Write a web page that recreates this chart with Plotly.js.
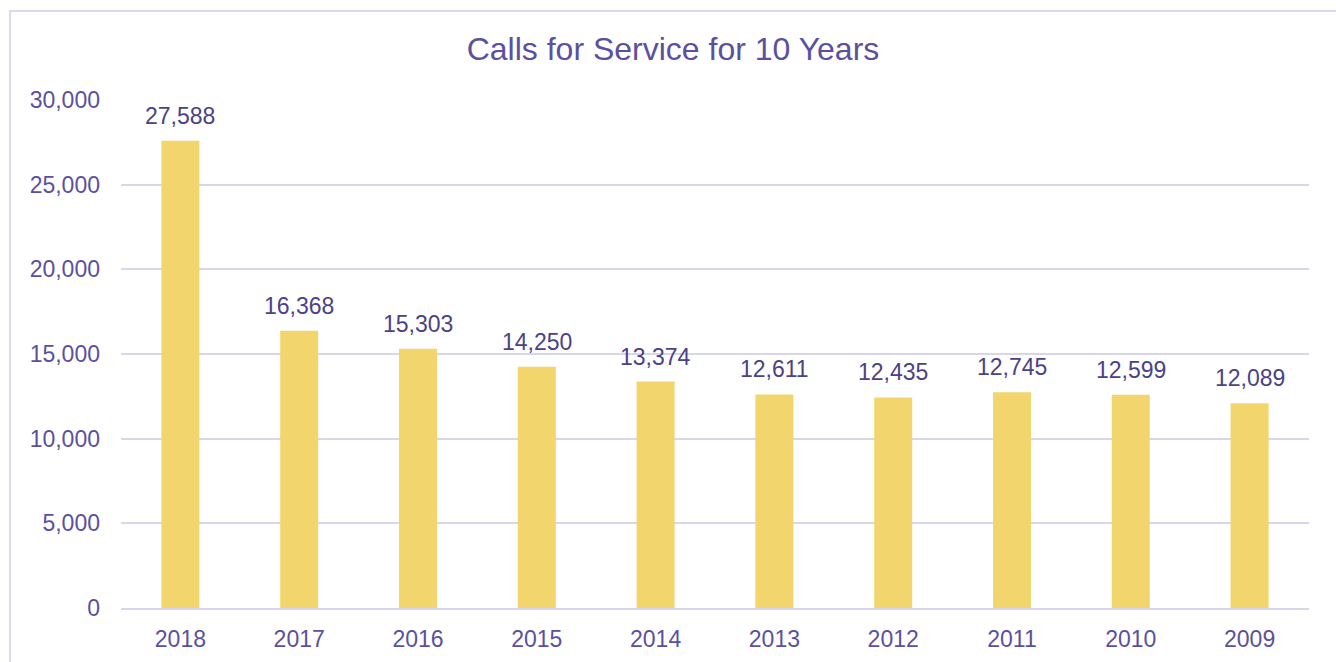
<!DOCTYPE html>
<html>
<head>
<meta charset="utf-8">
<script src="https://cdn.plot.ly/plotly-3.0.1.min.js"></script>
<style>
html,body{margin:0;padding:0;background:#fff;}
#chart{width:1336px;height:662px;}
</style>
</head>
<body>
<div id="chart"></div>
<script>
const years = ['2018','2017','2016','2015','2014','2013','2012','2011','2010','2009'];
const calls = [27588,16368,15303,14250,13374,12611,12435,12745,12599,12089];
const yTicks = [0,5000,10000,15000,20000,25000,30000];
const chartTitle = 'Calls for Service for 10 Years';

const fmt = v => v.toLocaleString('en-US');
const FONT = '"Liberation Sans", Arial, sans-serif';

const trace = {
  type: 'bar',
  x: years,
  y: calls,
  marker: {color: '#F3D56E'},
  hoverinfo: 'x+y'
};

// category index positions on the category axis
const annotations = years.map((yr, i) => ({
  x: i, y: calls[i], xref: 'x', yref: 'y',
  text: fmt(calls[i]), showarrow: false,
  yanchor: 'bottom', yshift: 10,
  font: {family: FONT, size: 23, color: '#4B4286'}
}));

const layout = {
  width: 1336, height: 662,
  margin: {l: 121, r: 27, t: 100, b: 54},
  paper_bgcolor: '#ffffff',
  plot_bgcolor: '#ffffff',
  bargap: 0.68,
  showlegend: false,
  font: {family: FONT, color: '#5B50A0'},
  title: {
    text: chartTitle,
    x: 673/1336, xref: 'container', xanchor: 'center',
    y: 1 - 49/662, yref: 'container', yanchor: 'middle',
    font: {family: FONT, size: 32, color: '#5B50A0'}
  },
  xaxis: {
    type: 'category',
    range: [-0.5, years.length - 0.5],
    showgrid: false,
    showline: true, linecolor: '#D9D6EA', linewidth: 2,
    ticks: '', ticklabelstandoff: 9,
    tickfont: {size: 23, color: '#5B50A0'},
    fixedrange: true
  },
  yaxis: {
    range: [0, 30000],
    tickvals: yTicks,
    ticktext: yTicks.map(fmt),
    showgrid: true, gridcolor: '#D9D6EA', gridwidth: 2,
    zeroline: false, showline: false,
    ticks: '', ticklabelstandoff: 20,
    tickfont: {size: 23, color: '#5B50A0'},
    fixedrange: true
  },
  annotations: annotations,
  shapes: [{
    type: 'rect', xref: 'paper', yref: 'paper',
    x0: (10 - 121) / 1188, x1: (1345 - 121) / 1188,
    y0: (608 - 670) / 508, y1: (608 - 11) / 508,
    line: {color: '#DCD9EE', width: 2},
    fillcolor: 'rgba(0,0,0,0)', layer: 'below'
  }]
};

Plotly.newPlot('chart', [trace], layout, {displayModeBar: false, staticPlot: true});
</script>
</body>
</html>
